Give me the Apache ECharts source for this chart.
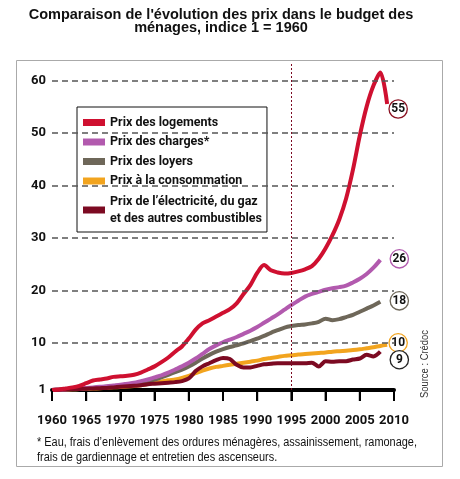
<!DOCTYPE html>
<html><head><meta charset="utf-8">
<script src="https://cdn.jsdelivr.net/npm/echarts@6/dist/echarts.min.js"></script>
<style>html,body{margin:0;padding:0;background:#fff}#c{width:460px;height:479px}</style>
</head><body><div id="c"></div>
<script>
var years = [];
for (var y = 1960; y <= 2009; y++) years.push(y);

var logements = [1,1.1,1.3,1.5,1.8,2.3,2.8,3.0,3.2,3.5,3.6,3.7,3.9,4.3,4.9,5.5,6.3,7.2,8.3,9.3,10.8,12.5,13.7,14.3,15.0,15.7,16.4,17.5,19.3,21.0,23.3,24.8,23.8,23.4,23.2,23.3,23.6,24.0,24.6,26.0,28.0,30.5,33.5,37.5,43.0,49.5,55.0,59.0,61.5,55.5];
var charges = [1,1.05,1.1,1.2,1.3,1.4,1.5,1.6,1.7,1.85,2.0,2.2,2.4,2.7,3.0,3.4,3.8,4.3,4.9,5.5,6.2,7.0,7.9,8.8,9.5,10.1,10.6,11.1,11.7,12.3,13.0,13.8,14.6,15.4,16.3,17.2,18.0,18.8,19.3,19.7,20.1,20.4,20.6,20.9,21.5,22.2,23.1,24.3,25.8,null];
var loyers = [1,1.05,1.1,1.15,1.2,1.3,1.4,1.5,1.6,1.7,1.8,2.0,2.2,2.4,2.7,3.0,3.4,3.9,4.4,4.9,5.5,6.2,7.0,7.7,8.3,8.8,9.2,9.5,9.9,10.3,10.8,11.3,11.9,12.4,12.9,13.2,13.4,13.5,13.7,14.0,14.6,14.3,14.5,14.9,15.3,15.9,16.5,17.1,17.8,null];
var consommation = [1,1.03,1.07,1.12,1.17,1.22,1.28,1.34,1.42,1.5,1.58,1.67,1.78,1.92,2.15,2.4,2.6,2.85,3.0,3.3,3.7,4.2,4.7,5.1,5.4,5.6,5.8,6.0,6.2,6.4,6.6,6.9,7.1,7.3,7.5,7.6,7.75,7.85,7.95,8.05,8.15,8.3,8.4,8.5,8.6,8.75,8.95,9.15,9.4,9.6];
var electricite = [1,1.05,1.1,1.15,1.2,1.25,1.3,1.35,1.4,1.5,1.6,1.7,1.8,1.9,2.1,2.2,2.3,2.4,2.5,2.7,3.2,4.6,5.5,6.1,6.7,7.1,6.9,5.8,5.3,5.3,5.6,5.9,6.0,6.1,6.1,6.1,6.1,6.1,6.2,5.5,6.5,6.4,6.5,6.5,6.8,7.0,7.7,7.4,8.3,null];

var names = ['Prix des logements','Prix des charges*','Prix des loyers','Prix \u00e0 la consommation','Prix de l\u2019\u00e9lectricit\u00e9, du gaz\net des autres combustibles'];
var endValues = ['55','26','18','10','9'];
var yTicks = [1,10,20,30,40,50,60];
var gridValues = [10,20,30,40,50,60];
var xTicks = [1960,1965,1970,1975,1980,1985,1990,1995,2000,2005,2010];
var markYear = 1995;

var BOLDF = 'Roboto,"Liberation Sans",sans-serif';
var colors = ['#cf1030','#b25aae','#6e6759','#f2a41e','#7c0a22'];

function pairs(arr){
  var out = [];
  years.forEach(function(y, i){ if (arr[i] !== null && arr[i] !== undefined) out.push([y, arr[i]]); });
  return out;
}

function mkSeries(idx, arr, off, extra){
  var s = {
    name: names[idx], type: 'line', data: pairs(arr), smooth: 0.3,
    showSymbol: false, symbol: 'none',
    lineStyle: {color: colors[idx], width: 4},
    itemStyle: {color: colors[idx]},
    emphasis: {disabled: true},
    endLabel: {
      show: true, formatter: endValues[idx], distance: 0, align: 'center', verticalAlign: 'middle',
      offset: off, width: 17, height: 17, lineHeight: 17, borderRadius: 10,
      backgroundColor: '#fff', borderColor: idx === 0 ? '#8a1020' : (idx === 4 ? '#222' : colors[idx]), borderWidth: 1.3,
      color: '#111', fontWeight: 'bold', fontSize: 12, fontFamily: BOLDF
    }
  };
  if (extra) for (var k in extra) s[k] = extra[k];
  return s;
}

var series = [
  mkSeries(3, consommation, [11, -2], {markLine: {
    silent: true, symbol: 'none', label: {show: false}, animation: false,
    data: gridValues.map(function(v){ return {yAxis: v, lineStyle: {color: '#555', width: 1.5, type: [6, 4]}}; })
      .concat([{xAxis: markYear, lineStyle: {color: '#7c0a22', width: 1, type: [2, 2]}}])
  }}),
  mkSeries(2, loyers, [19, -1]),
  mkSeries(1, charges, [19, -1]),
  mkSeries(4, electricite, [19, 8]),
  mkSeries(0, logements, [11, 5])
];

var legendData = names.map(function(n, i){
  return i === 4 ? {name: n, textStyle: {lineHeight: 17}} : {name: n};
});

var baseGraphics = [
  {type: 'rect', z: -10, silent: true, shape: {x: 16.5, y: 60.5, width: 426, height: 406},
   style: {fill: null, stroke: '#aaa', lineWidth: 1}},
  {type: 'text', x: 425, y: 364, rotation: Math.PI / 2, scaleX: 0.82, silent: true,
   style: {text: 'Source : Cr\u00e9doc', fontFamily: '"Liberation Sans",Arial,sans-serif', fontSize: 11.5, fill: '#333', align: 'center', verticalAlign: 'middle'}},
  {type: 'text', x: 37, y: 435, scaleX: 0.875, silent: true,
   style: {text: '* Eau, frais d\u2019enl\u00e8vement des ordures m\u00e9nag\u00e8res, assainissement, ramonage,\nfrais de gardiennage et entretien des ascenseurs.',
     fontFamily: '"Liberation Sans",Arial,sans-serif', fontSize: 12.5, lineHeight: 15, fill: '#111'}}
];

var chart = echarts.init(document.getElementById('c'), null, {renderer: 'canvas'});
try {
  chart.setOption({
    animation: false,
    backgroundColor: '#fff',
    title: {
      text: 'Comparaison de l\'\u00e9volution des prix dans le budget des\nm\u00e9nages, indice 1 = 1960',
      left: 216, textAlign: 'center', top: 3,
      textStyle: {fontFamily: '"Liberation Sans",Arial,sans-serif', fontWeight: 'bold', fontSize: 14.5, lineHeight: 13.5, color: '#111'}
    },
    legend: {
      data: legendData, orient: 'vertical', left: 77, top: 107,
      icon: 'rect', itemWidth: 22, itemHeight: 7, itemGap: 4.5,
      padding: [8, 5, 5, 6],
      backgroundColor: '#fff', borderColor: '#111', borderWidth: 1,
      selectedMode: false,
      textStyle: {fontFamily: BOLDF, fontWeight: 'bold', fontSize: 12.5, lineHeight: 15, color: '#111'}
    },
    grid: {left: 52, right: 66, top: 62, bottom: 89, containLabel: false},
    xAxis: {
      type: 'value', min: 1960, max: 2010, interval: 5, splitLine: {show: false},
      axisLine: {show: true, onZero: false, lineStyle: {color: '#000', width: 4}},
      axisTick: {show: true, inside: false, length: 11, lineStyle: {color: '#000', width: 2}},
      axisLabel: {margin: 24, showMinLabel: true, showMaxLabel: true, hideOverlap: false,
        fontFamily: BOLDF, fontWeight: 'bold', fontSize: 13, color: '#111', formatter: function(v){ return String(v); }}
    },
    yAxis: {
      type: 'value', min: 1, max: 63.5, splitLine: {show: false},
      axisLine: {show: false}, axisTick: {show: false},
      axisLabel: {customValues: yTicks, margin: 6, fontFamily: BOLDF, fontWeight: 'bold', fontSize: 13, color: '#111'}
    },
    graphic: baseGraphics,
    series: series
  });
} catch (e) {}

// tick marks under the axis, positioned through the library's own x scale, on a top layer
try {
  var tickGraphics = xTicks.map(function(x){
    var p = chart.convertToPixel({gridIndex: 0}, [x, yTicks[0]]);
    return {type: 'line', silent: true, zlevel: 1, z: 100,
      shape: {x1: p[0], y1: p[1] + 1, x2: p[0], y2: p[1] + 11},
      style: {stroke: '#000', lineWidth: 2}};
  });
  chart.setOption({graphic: baseGraphics.concat(tickGraphics)});
} catch (e) {}
</script></body></html>
